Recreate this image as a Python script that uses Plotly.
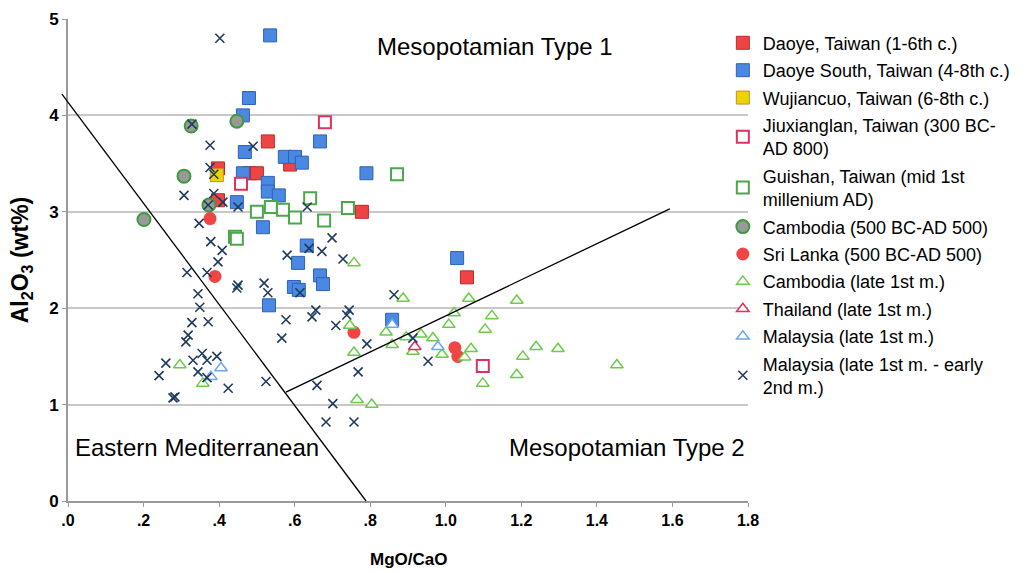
import plotly.graph_objects as go

# MgO/CaO (x) and Al2O3 wt% (y) for each glass group
daoye_x = [0.397, 0.397, 0.48, 0.50, 0.529, 0.588, 0.778, 1.056]
daoye_y = [3.45, 3.12, 3.40, 3.40, 3.73, 3.49, 3.00, 2.32]

daoye_s_x = [0.535, 0.479, 0.463, 0.468, 0.667, 0.574, 0.601, 0.619, 0.463, 0.529,
             0.529, 0.558, 0.447, 0.790, 0.516, 0.632, 0.609, 0.667, 0.675, 0.598,
             0.611, 0.532, 0.858, 1.030]
daoye_s_y = [4.83, 4.18, 4.00, 3.62, 3.73, 3.57, 3.57, 3.51, 3.40, 3.30,
             3.21, 3.17, 3.10, 3.40, 2.84, 2.65, 2.47, 2.34, 2.25, 2.22,
             2.19, 2.03, 1.88, 2.52]

wuji_x = [0.394]
wuji_y = [3.38]

jiux_x = [0.680, 0.458, 1.098]
jiux_y = [3.93, 3.29, 1.40]

guishan_x = [0.871, 0.50, 0.537, 0.569, 0.601, 0.641, 0.678, 0.741, 0.442, 0.447]
guishan_y = [3.39, 3.00, 3.05, 3.02, 2.94, 3.14, 2.91, 3.04, 2.74, 2.72]

camb_e_x = [0.326, 0.447, 0.307, 0.373, 0.201]
camb_e_y = [3.89, 3.94, 3.37, 3.07, 2.92]

sri_x = [0.376, 0.389, 0.757, 1.024, 1.032]
sri_y = [2.93, 2.33, 1.75, 1.59, 1.50]

camb_l_x = [0.296, 0.357, 0.757, 0.746, 0.842, 0.858, 0.757, 0.765, 0.804, 0.887,
            1.061, 1.188, 1.022, 1.122, 1.008, 1.104, 0.895, 0.934, 0.966, 0.913,
            0.990, 1.067, 1.050, 1.239, 1.297, 1.204, 1.188, 1.098, 1.453]
camb_l_y = [1.41, 1.22, 2.47, 1.82, 1.75, 1.62, 1.54, 1.05, 1.00, 2.10,
            2.10, 2.08, 1.95, 1.92, 1.83, 1.78, 1.70, 1.73, 1.69, 1.55,
            1.52, 1.58, 1.49, 1.60, 1.58, 1.50, 1.31, 1.22, 1.41]

thai_x = [0.918]
thai_y = [1.60]

malay_l_x = [0.979, 0.405, 0.378, 0.858]
malay_l_y = [1.60, 1.38, 1.29, 1.83]

malay_le_x = [0.402, 0.328, 0.376, 0.490, 0.376, 0.386, 0.307, 0.386, 0.410, 0.450,
              0.371, 0.347, 0.378, 0.408, 0.397, 0.315, 0.368, 0.450, 0.447, 0.519,
              0.529, 0.580, 0.344, 0.349, 0.328, 0.371, 0.318, 0.312, 0.577, 0.566,
              0.355, 0.331, 0.368, 0.394, 0.259, 0.241, 0.344, 0.368, 0.424, 0.524,
              0.278, 0.283, 0.633, 0.699, 0.638, 0.672, 0.728, 0.614, 0.863, 0.656,
              0.646, 0.744, 0.738, 0.709, 0.791, 0.768, 0.659, 0.701, 0.683, 0.757,
              0.913, 0.953]
malay_le_y = [4.80, 3.91, 3.69, 3.68, 3.46, 3.39, 3.17, 3.19, 3.10, 3.05,
              3.07, 2.88, 2.69, 2.60, 2.48, 2.37, 2.37, 2.24, 2.21, 2.26,
              2.16, 2.55, 2.15, 2.01, 1.85, 1.86, 1.72, 1.65, 1.88, 1.69,
              1.53, 1.46, 1.46, 1.50, 1.43, 1.30, 1.34, 1.28, 1.17, 1.24,
              1.07, 1.08, 3.05, 2.73, 2.62, 2.59, 2.51, 2.16, 2.14, 1.98,
              1.91, 1.98, 1.93, 1.82, 1.63, 1.34, 1.20, 1.01, 0.82, 0.82,
              1.69, 1.45]

# Boundary lines between the compositional fields (data units)
bound1_x = [-0.016, 0.789]
bound1_y = [4.22, 0.0]
bound2_x = [0.577, 1.593]
bound2_y = [1.13, 3.03]

X_RANGE = [0, 1.8]
Y_RANGE = [0, 5]
x_ticks = [0, 0.2, 0.4, 0.6, 0.8, 1.0, 1.2, 1.4, 1.6, 1.8]
x_tick_text = [".0", ".2", ".4", ".6", ".8", "1.0", "1.2", "1.4", "1.6", "1.8"]
y_ticks = [0, 1, 2, 3, 4, 5]

FONT = "Arial, Liberation Sans, sans-serif"

series = [
    ("Daoye, Taiwan (1-6th c.)", daoye_x, daoye_y,
     dict(symbol="square", size=13, color="#ef4444", line=dict(color="#b82a2a", width=1))),
    ("Daoye South, Taiwan (4-8th c.)", daoye_s_x, daoye_s_y,
     dict(symbol="square", size=13, color="#4a88e2", line=dict(color="#2e62b5", width=1))),
    ("Wujiancuo, Taiwan (6-8th c.)", wuji_x, wuji_y,
     dict(symbol="square", size=13, color="#ecd400", line=dict(color="#d08a2a", width=1))),
    ("Jiuxianglan, Taiwan (300 BC-<br>AD 800)", jiux_x, jiux_y,
     dict(symbol="square", size=12, color="white", line=dict(color="#e0305e", width=2))),
    ("Guishan, Taiwan (mid 1st<br>millenium AD)", guishan_x, guishan_y,
     dict(symbol="square", size=12, color="white", line=dict(color="#4aa84a", width=2))),
    ("Cambodia (500 BC-AD 500)", camb_e_x, camb_e_y,
     dict(symbol="circle", size=13, color="#999999", line=dict(color="#3e9a3e", width=2))),
    ("Sri Lanka (500 BC-AD 500)", sri_x, sri_y,
     dict(symbol="circle", size=13, color="#f04545", line=dict(color="#f04545", width=0))),
    ("Cambodia (late 1st m.)", camb_l_x, camb_l_y,
     dict(symbol="triangle-up", size=11, color="white", line=dict(color="#6ccb4a", width=1.5))),
    ("Thailand (late 1st m.)", thai_x, thai_y,
     dict(symbol="triangle-up", size=11, color="white", line=dict(color="#e0305e", width=1.5))),
    ("Malaysia (late 1st m.)", malay_l_x, malay_l_y,
     dict(symbol="triangle-up", size=11, color="white", line=dict(color="#6ea6ee", width=1.5))),
    ("Malaysia (late 1st m. - early<br>2nd m.)", malay_le_x, malay_le_y,
     dict(symbol="x-thin", size=9, color="#1f3a5c", line=dict(color="#1f3a5c", width=1.6))),
]

fig = go.Figure()
for i, (name, xs, ys, mk) in enumerate(series):
    fig.add_trace(go.Scatter(x=xs, y=ys, mode="markers", name=name,
                             legendgroup=f"g{i}", marker=mk))


def to_paper(v, rng):
    return (v - rng[0]) / (rng[1] - rng[0])


# boundary lines are placed in paper units so they may run past the y axis
for bx, by in [(bound1_x, bound1_y), (bound2_x, bound2_y)]:
    fig.add_shape(type="line", xref="paper", yref="paper",
                  x0=to_paper(bx[0], X_RANGE), y0=to_paper(by[0], Y_RANGE),
                  x1=to_paper(bx[1], X_RANGE), y1=to_paper(by[1], Y_RANGE),
                  line=dict(color="black", width=1.3))

for txt, ax, ay in [("Mesopotamian Type 1", 1.130, 4.71),
                    ("Eastern Mediterranean", 0.341, 0.56),
                    ("Mesopotamian Type 2", 1.48, 0.56)]:
    fig.add_annotation(x=ax, y=ay, xref="x", yref="y", text=txt, showarrow=False,
                       font=dict(family=FONT, size=24, color="black"))

# x axis title, placed below the tick labels
fig.add_annotation(x=0.5, y=-0.122, xref="paper", yref="paper", text="<b>MgO/CaO</b>",
                   showarrow=False, yanchor="middle",
                   font=dict(family=FONT, size=17, color="black"))

fig.update_layout(
    width=1031, height=573,
    margin=dict(l=68, r=283, t=19, b=72, autoexpand=False),
    paper_bgcolor="white", plot_bgcolor="white",
    font=dict(family=FONT, color="black"),
    showlegend=True,
    legend=dict(x=0.963, y=0.9884, xanchor="left", yanchor="top",
                font=dict(family=FONT, size=18, color="black"),
                tracegroupgap=1, bgcolor="rgba(0,0,0,0)", itemsizing="trace"),
    xaxis=dict(range=X_RANGE, tickvals=x_ticks, ticktext=x_tick_text,
               showgrid=False, zeroline=False, showline=True, linecolor="#9a9a9a",
               linewidth=2, ticks="outside", ticklen=4, tickcolor="#9a9a9a",
               tickfont=dict(family=FONT, size=16, color="black", weight="bold")),
    yaxis=dict(range=Y_RANGE, tickvals=y_ticks, showgrid=True, gridcolor="#c8c8c8",
               gridwidth=1.5, zeroline=False, showline=True, linecolor="#9a9a9a",
               linewidth=2, ticks="outside", ticklen=4, tickcolor="#9a9a9a",
               tickfont=dict(family=FONT, size=17, color="black", weight="bold"),
               title=dict(text="<b>Al<sub>2</sub>O<sub>3</sub> (wt%)</b>", standoff=14,
                          font=dict(family=FONT, size=23, color="black"))),
)

fig.write_html("out.html")
